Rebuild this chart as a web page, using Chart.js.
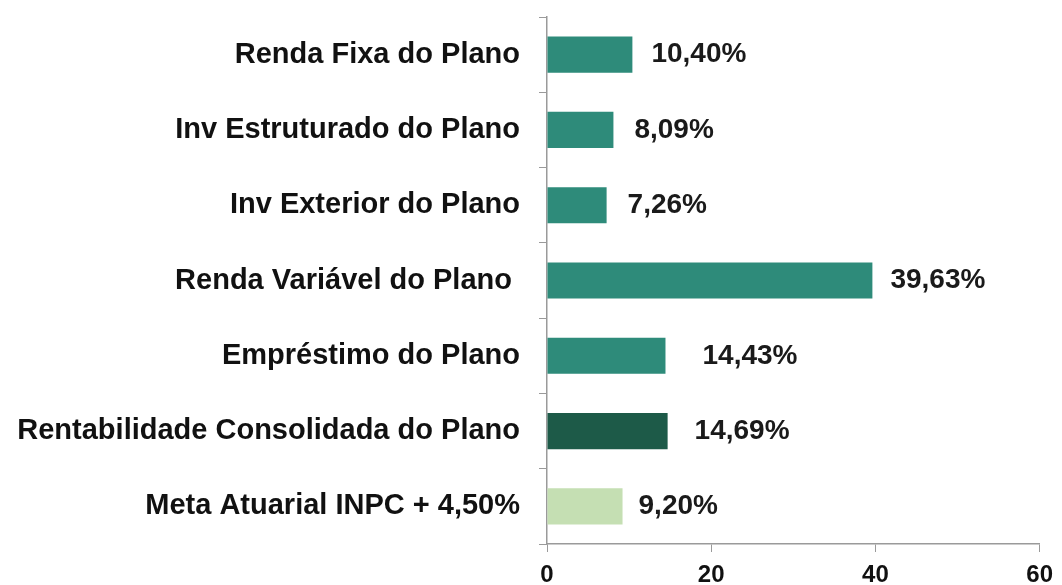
<!DOCTYPE html>
<html lang="pt">
<head>
    <meta charset="UTF-8">
    <title>Rentabilidade do Plano</title>
    <script src="https://cdn.jsdelivr.net/npm/chart.js"></script>
    <style>
        html, body {
            margin: 0;
            padding: 0;
            background: #ffffff;
        }
        .chart-wrap {
            position: relative;
            width: 1062px;
            height: 585px;
        }
    </style>
</head>
<body>
    <div class="chart-wrap">
        <canvas id="rentChart"></canvas>
    </div>

    <script>
        // data
        const categories = [
            'Renda Fixa do Plano',
            'Inv Estruturado do Plano',
            'Inv Exterior do Plano',
            'Renda Variável do Plano ',
            'Empréstimo do Plano',
            'Rentabilidade Consolidada do Plano',
            'Meta Atuarial INPC + 4,50%'
        ];
        const values = [10.40, 8.09, 7.26, 39.63, 14.43, 14.69, 9.20];
        const xTicks = [0, 20, 40, 60];

        const TEAL = '#2e8b7a';
        const DARK = '#1d5a48';
        const LIGHT = '#c5dfb3';
        const barColors = [TEAL, TEAL, TEAL, TEAL, TEAL, DARK, LIGHT];

        const FONT = "'Liberation Sans', Arial, sans-serif";

        // value labels drawn just right of each bar end
        const valueLabels = {
            id: 'valueLabels',
            afterDatasetsDraw(chart, args, opts) {
                const ctx = chart.ctx;
                const meta = chart.getDatasetMeta(0);
                ctx.save();
                ctx.font = 'bold 28px ' + FONT;
                ctx.fillStyle = '#1a1a1a';
                ctx.textAlign = 'left';
                ctx.textBaseline = 'middle';
                meta.data.forEach((bar, i) => {
                    const txt = values[i].toFixed(2).replace('.', ',') + '%';
                    ctx.fillText(txt, bar.x + opts.gaps[i], bar.y);
                });
                ctx.restore();
            }
        };

        const ctx = document.getElementById('rentChart').getContext('2d');
        const rentChart = new Chart(ctx, {
            type: 'bar',
            data: {
                labels: categories,
                datasets: [{
                    data: values,
                    backgroundColor: barColors,
                    borderWidth: 0,
                    categoryPercentage: 1.0,
                    barPercentage: 0.48
                }]
            },
            plugins: [valueLabels],
            options: {
                indexAxis: 'y',
                responsive: true,
                maintainAspectRatio: false,
                animation: false,
                layout: {
                    padding: { top: 17, right: 17, left: 0, bottom: 0 }
                },
                plugins: {
                    legend: { display: false },
                    tooltip: { enabled: false },
                    valueLabels: { gaps: [19, 21, 21, 18, 37, 27, 16] }
                },
                scales: {
                    x: {
                        min: 0,
                        max: 60,
                        afterBuildTicks: (scale) => {
                            scale.ticks = xTicks.map(v => ({ value: v }));
                        },
                        afterFit: (scale) => { scale.height = 41; },
                        grid: {
                            drawOnChartArea: false,
                            color: '#9a9a9a',
                            tickLength: 8
                        },
                        border: { color: '#9a9a9a', width: 1.5 },
                        ticks: {
                            padding: 9,
                            maxRotation: 0,
                            color: '#111111',
                            font: { family: FONT, size: 24, weight: 'bold' }
                        }
                    },
                    y: {
                        afterFit: (scale) => {
                            scale.width = 547;
                            scale.paddingTop = 0;
                            scale.paddingBottom = 0;
                        },
                        grid: {
                            drawOnChartArea: false,
                            color: '#9a9a9a',
                            tickLength: 8
                        },
                        border: { color: '#9a9a9a', width: 1.5 },
                        ticks: {
                            padding: 19,
                            color: '#111111',
                            font: { family: FONT, size: 29, weight: 'bold' }
                        }
                    }
                }
            }
        });
    </script>
</body>
</html>
